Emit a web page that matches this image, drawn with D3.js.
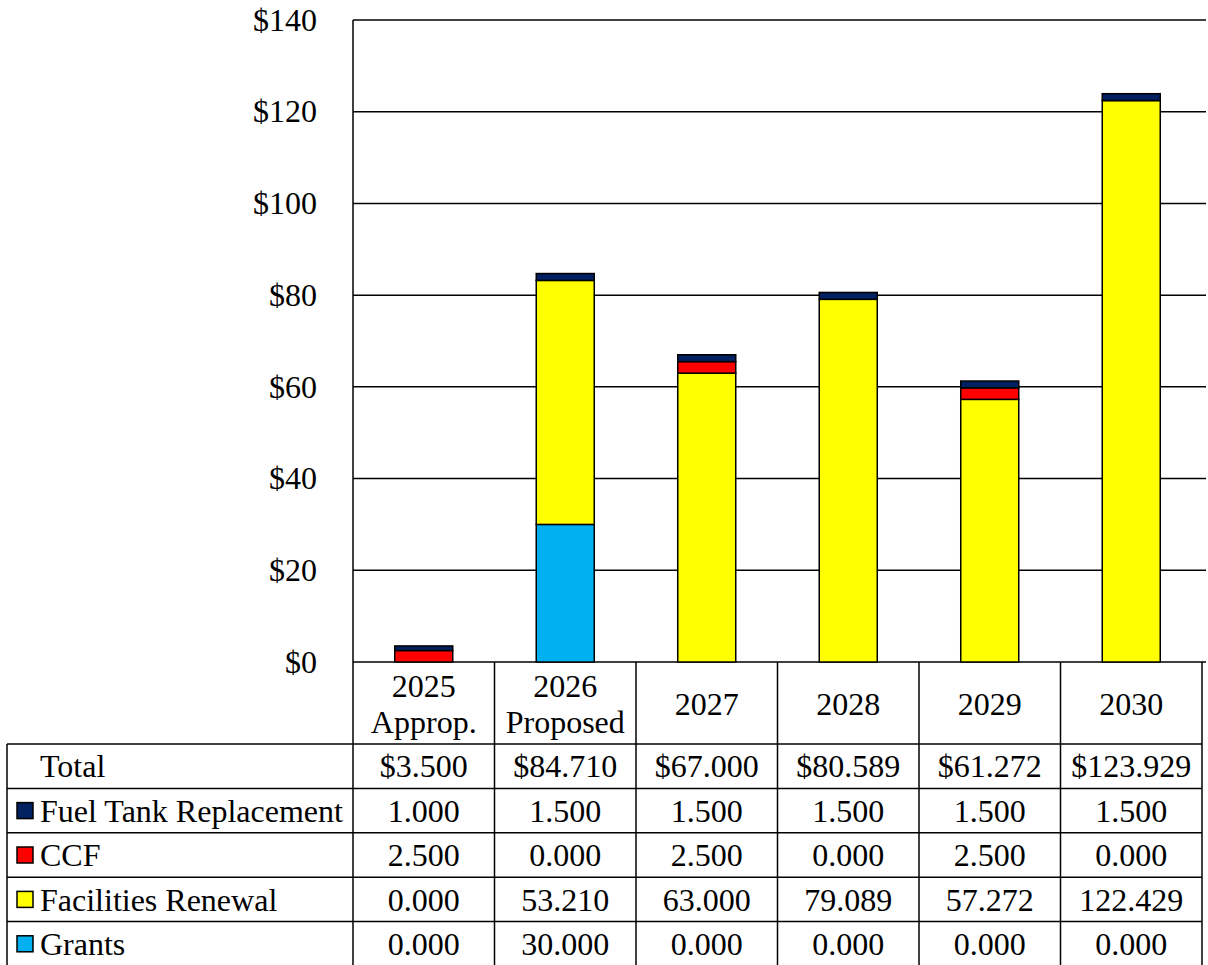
<!DOCTYPE html>
<html>
<head>
<meta charset="utf-8">
<script src="https://cdn.jsdelivr.net/npm/d3@7"></script>
<style>
  html, body { margin: 0; padding: 0; background: #fff; }
  svg { display: block; font-family: "Liberation Serif", "Times New Roman", serif; }
</style>
</head>
<body>
<svg id="chart" width="1208" height="965"></svg>
<script>
// Budget by year, $ millions
const years = ["2025|Approp.", "2026|Proposed", "2027", "2028", "2029", "2030"];
const grants = [0.000, 30.000, 0.000, 0.000, 0.000, 0.000];
const facilitiesRenewal = [0.000, 53.210, 63.000, 79.089, 57.272, 122.429];
const ccf = [2.500, 0.000, 2.500, 0.000, 2.500, 0.000];
const fuelTank = [1.000, 1.500, 1.500, 1.500, 1.500, 1.500];
const totals = [3.500, 84.710, 67.000, 80.589, 61.272, 123.929];
const yTicks = [0, 20, 40, 60, 80, 100, 120, 140];

// stacking order bottom to top
const series = [
  { key: "Grants", values: grants, color: "#00B0F0" },
  { key: "Facilities Renewal", values: facilitiesRenewal, color: "#FFFF00" },
  { key: "CCF", values: ccf, color: "#FF0000" },
  { key: "Fuel Tank Replacement", values: fuelTank, color: "#002060" }
];

const svg = d3.select("#chart");
const plot = { left: 353, right: 1202, top: 20, bottom: 662 };
const gridRight = 1206;
const tableLeft = 7;
const headerBottom = 744;
const rowH = 44.4;
const fontSize = 32;
const serif = "Liberation Serif, Times New Roman, serif";

const x = d3.scaleBand().domain(years).range([plot.left, plot.right])
  .paddingInner(0.59).paddingOuter(0.295);
const col = d3.scaleBand().domain(years).range([plot.left, plot.right]).padding(0);
const y = d3.scaleLinear().domain([0, 140]).range([plot.bottom, plot.top]);

// gridlines
svg.append("g").selectAll("line").data(yTicks).join("line")
  .attr("x1", plot.left).attr("x2", gridRight)
  .attr("y1", d => y(d)).attr("y2", d => y(d))
  .attr("stroke", "#000").attr("stroke-width", 1.5);

// vertical axis line
svg.append("line")
  .attr("x1", plot.left).attr("x2", plot.left)
  .attr("y1", y(140)).attr("y2", y(0))
  .attr("stroke", "#000").attr("stroke-width", 1.5);

// y tick labels
const yAxis = d3.axisLeft(y).tickValues(yTicks).tickSize(0).tickPadding(36)
  .tickFormat(d => "$" + d);
const ya = svg.append("g").attr("transform", `translate(${plot.left},0)`).call(yAxis)
  .attr("font-family", serif).attr("font-size", fontSize);
ya.select(".domain").remove();
ya.selectAll("text").attr("fill", "#000");

// stacked bars
const rows = years.map((yr, i) => {
  const o = { year: yr };
  series.forEach(s => { o[s.key] = s.values[i]; });
  return o;
});
const stack = d3.stack().keys(series.map(s => s.key))(rows);
const barG = svg.append("g");
stack.forEach((layer, li) => {
  barG.append("g").selectAll("rect")
    .data(layer.filter(d => d[1] - d[0] > 0))
    .join("rect")
    .attr("x", d => x(d.data.year))
    .attr("width", x.bandwidth())
    .attr("y", d => y(d[1]))
    .attr("height", d => y(d[0]) - y(d[1]))
    .attr("fill", series[li].color)
    .attr("stroke", "#000").attr("stroke-width", 1.5);
});

// data table
const tbl = svg.append("g").attr("font-family", serif).attr("font-size", fontSize);
const tableBottom = headerBottom + rowH * 5;
const lineAttrs = sel => sel.attr("stroke", "#000").attr("stroke-width", 1.5);

// column separators
years.forEach(yr => {
  tbl.append("line").call(lineAttrs)
    .attr("x1", col(yr)).attr("x2", col(yr))
    .attr("y1", plot.bottom).attr("y2", tableBottom);
});
tbl.append("line").call(lineAttrs)
  .attr("x1", plot.right).attr("x2", plot.right)
  .attr("y1", plot.bottom).attr("y2", tableBottom);
tbl.append("line").call(lineAttrs)
  .attr("x1", tableLeft).attr("x2", tableLeft)
  .attr("y1", headerBottom).attr("y2", tableBottom);
// horizontal row lines
d3.range(6).forEach(r => {
  tbl.append("line").call(lineAttrs)
    .attr("x1", tableLeft).attr("x2", plot.right)
    .attr("y1", headerBottom + r * rowH).attr("y2", headerBottom + r * rowH);
});

// header category labels
years.forEach(yr => {
  const parts = yr.split("|");
  const cx = col(yr) + col.bandwidth() / 2;
  const cy = (plot.bottom + headerBottom) / 2 + 1;
  const t = tbl.append("text").attr("text-anchor", "middle").attr("fill", "#000");
  const lh = 36;
  parts.forEach((p, k) => {
    t.append("tspan").attr("x", cx)
      .attr("y", cy + (k - (parts.length - 1) / 2) * lh)
      .attr("dy", "0.35em").text(p);
  });
});

// table rows: Total then series top to bottom
const tableRows = [{ key: "Total", values: totals, color: null, prefix: "$" }]
  .concat(series.slice().reverse().map(s => ({ key: s.key, values: s.values, color: s.color, prefix: "" })));

tableRows.forEach((r, ri) => {
  const cy = headerBottom + ri * rowH + rowH / 2;
  if (r.color) {
    tbl.append("rect")
      .attr("x", 17).attr("y", cy - 8).attr("width", 16).attr("height", 16)
      .attr("fill", r.color).attr("stroke", "#000").attr("stroke-width", 1.5);
  }
  tbl.append("text").attr("x", 40).attr("y", cy).attr("dy", "0.35em")
    .attr("fill", "#000").text(r.key);
  r.values.forEach((v, i) => {
    tbl.append("text")
      .attr("x", col(years[i]) + col.bandwidth() / 2).attr("y", cy).attr("dy", "0.35em")
      .attr("text-anchor", "middle").attr("fill", "#000")
      .text(r.prefix + v.toFixed(3));
  });
});
</script>
</body>
</html>
